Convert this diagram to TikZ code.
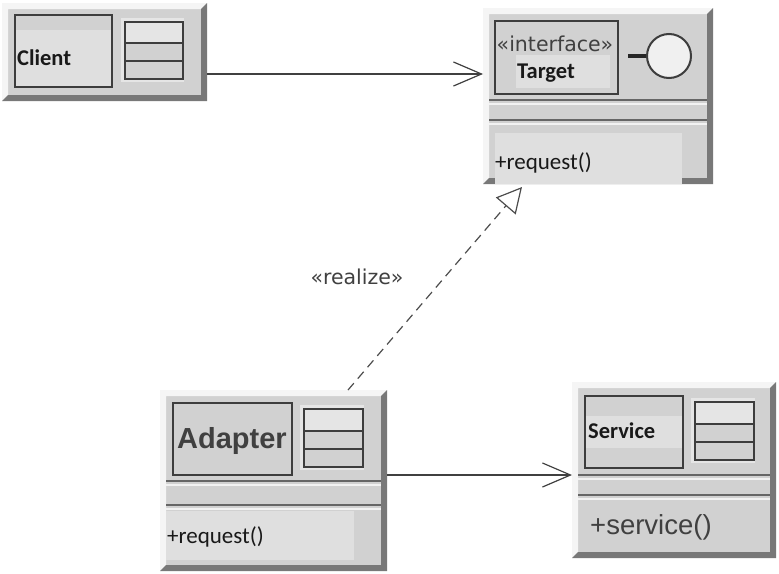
\documentclass[tikz,border=0pt]{standalone}
\usepackage{fontspec}
\setmainfont{Carlito}
\newfontfamily\umlsans{Liberation Sans}
\newfontfamily\umlwide{DejaVu Sans}
\usepackage{tikz}
\usetikzlibrary{arrows.meta}

\definecolor{bodygray}{gray}{0.82}
\definecolor{lightgray}{gray}{0.875}
\definecolor{edgegray}{gray}{0.47}
\definecolor{linegray}{gray}{0.24}
\definecolor{textgray}{gray}{0.25}

\tikzset{
  classbody/.style={fill=bodygray, inner sep=0pt, outer sep=0pt},
  namebox/.style={draw=linegray, line width=2pt},
  lightbox/.style={fill=lightgray},
  plaintext/.style={inner sep=0pt, anchor=west, text=black!90},
  assoc/.style={draw=black!75, line width=1.2pt, -{Straight Barb[length=28pt,width=24pt,line width=1.2pt]}},
  realize/.style={draw=black!70, line width=1.2pt, dash pattern=on 9pt off 6pt,
    -{Triangle[open,fill=white,length=25pt,width=26pt,line width=1.2pt]}}
}

% name, x1, y1, x2, y2
\newcommand{\bevelbox}[5]{
  \node[classbody, minimum width={(#4-#2)*1pt}, minimum height={(#5-#3)*1pt}]
    (#1) at ({(#2+#4)/2},{(#3+#5)/2}) {};
  \fill[white!96!black] (#2,#3) -- (#4,#3) -- (#4-6,#3+6) -- (#2+6,#3+6) -- (#2+6,#5-6) -- (#2,#5) -- cycle;
  \fill[edgegray] (#4,#3) -- (#4,#5) -- (#2,#5) -- (#2+6,#5-6) -- (#4-6,#5-6) -- (#4-6,#3+6) -- cycle;
}
% x1, y1, x2, y2, first row line, second row line
\newcommand{\tablesign}[6]{
  \fill[white!90!black] (#1-4,#2-4) rectangle (#3+1,#4+3);
  \fill[bodygray] (#1,#2) rectangle (#3,#4);
  \fill[white!90!black] (#1,#2) rectangle (#3,#5);
  \draw[namebox] (#1,#2) rectangle (#3,#4);
  \draw[draw=linegray, line width=1.8pt] (#1,#5) -- (#3,#5) (#1,#6) -- (#3,#6);
}
% x1, x2, y
\newcommand{\sepline}[3]{
  \draw[draw=edgegray!85!black, line width=2.4pt] (#1,#3) -- (#2,#3);
  \draw[draw=white!95!black, line width=2.5pt] (#1,#3+4) -- (#2,#3+4);
}

\begin{document}
\begin{tikzpicture}[x=1pt, y=-1pt]
\useasboundingbox (0,0) rectangle (779,573);

\bevelbox{client}{2}{3}{207}{101}
\fill[lightgray] (15,30) rectangle (112,87);
\draw[namebox] (15,15) rectangle (112,87);
\tablesign{125}{22}{183}{79}{43}{61}
\node[plaintext] (clientlabel) at (17,57.5) {\fontsize{22.5}{22}\selectfont\bfseries Client};

\bevelbox{target}{483}{8}{713}{184}
\draw[namebox] (495,21) rectangle (618,94);
\fill[lightgray] (516,55) rectangle (610,88);
\node[anchor=center, inner sep=0pt, text=textgray] (targetstereo) at (555,44) {\fontsize{20.5}{21}\umlwide «interface»};
\node[plaintext] (targetlabel) at (517,73) {\fontsize{22.5}{22}\selectfont\bfseries Target};
\node[circle, draw=linegray, fill=white!94!black, line width=2pt, minimum size=44pt, inner sep=0pt] (lollipop) at (669,56) {};
\coordinate (stemend) at (628,56);
\draw[draw=black!85, line width=3.5pt] (stemend) -- (lollipop.west);
\sepline{489}{707}{100}
\sepline{489}{707}{120}
\fill[lightgray] (495,133) rectangle (682,184);
\node[plaintext] (targetop) at (495,162.5) {\fontsize{23}{23}\selectfont +request()};

\bevelbox{adapter}{160}{390}{387}{571}
\draw[namebox] (173,403) rectangle (292,475);
\tablesign{304}{409}{363}{467}{431}{449}
\node[anchor=center, inner sep=0pt, text=textgray] (adapterlabel) at (232,441) {\fontsize{29}{29}\umlsans\bfseries Adapter};
\sepline{166}{381}{481}
\sepline{166}{381}{505}
\fill[lightgray] (166,511) rectangle (354,560);
\node[plaintext] (adapterop) at (167,536.5) {\fontsize{23}{23}\selectfont +request()};

\bevelbox{service}{572}{382}{776}{558}
\fill[lightgray] (586,416) rectangle (682,448);
\draw[namebox] (585,396) rectangle (683,468);
\tablesign{695}{402}{754}{460}{424}{442}
\node[plaintext] (servicelabel) at (588,431) {\fontsize{22.5}{22}\selectfont\bfseries Service};
\sepline{578}{770}{475}
\sepline{578}{770}{495}
\node[plaintext, text=textgray] (serviceop) at (590,527) {\fontsize{27.5}{28}\umlsans +service()};

\draw[assoc] ([yshift=-22pt]client.east) -- ([yshift=22pt]target.west);
\draw[assoc] ([yshift=5.5pt]adapter.east) -- ([yshift=-5pt]service.west);
\draw[realize] ([xshift=74.5pt]adapter.north) -- ([xshift=-76pt,yshift=-3pt]target.south);

\node[anchor=center, inner sep=0pt, text=textgray] (realizelabel) at (357,277) {\fontsize{20.5}{21}\umlwide «realize»};

\end{tikzpicture}
\end{document}
